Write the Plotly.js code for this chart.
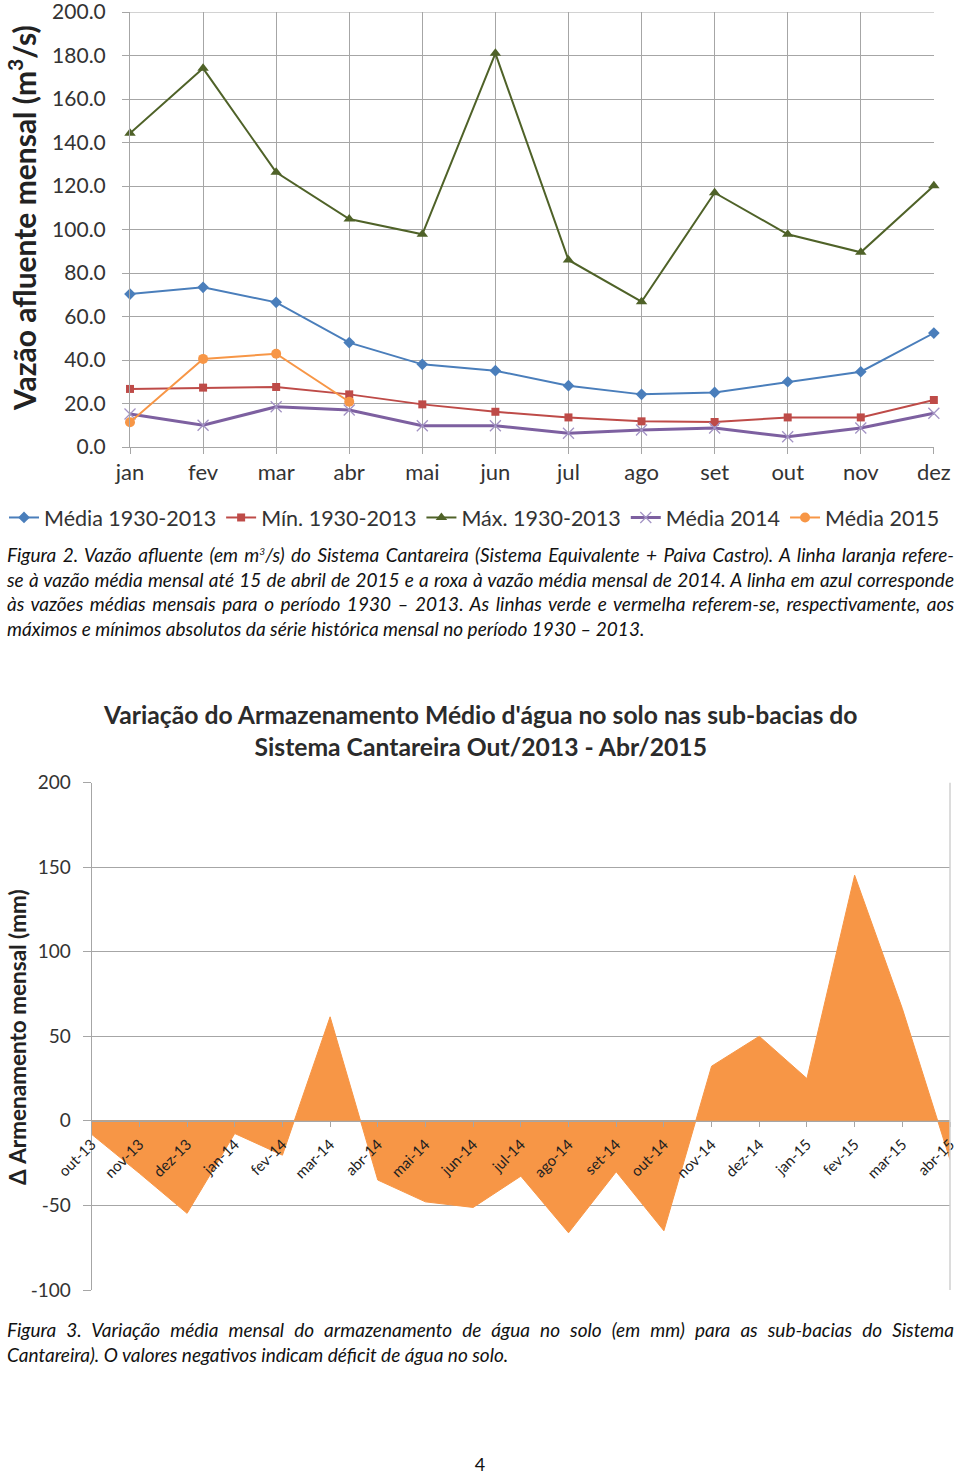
<!DOCTYPE html>
<html>
<head>
<meta charset="utf-8">
<script src="https://cdn.plot.ly/plotly-3.0.1.min.js"></script>
<style>
  html, body { margin:0; padding:0; background:#fff; }
  #page { position:relative; width:960px; height:1474px; overflow:hidden; }
  #chart { position:absolute; left:0; top:0; width:960px; height:1474px; }
  .cap { position:absolute; left:7px; width:947px; font-family:Lato,'Liberation Sans',sans-serif;
         font-style:italic; font-size:19px; color:#111; line-height:24.5px; }
  .cap div { text-align:justify; text-align-last:justify; white-space:nowrap; }
  .cap div.last { text-align-last:left; }
  #pnum { position:absolute; left:0; width:960px; top:1455px; height:18px; line-height:18px; text-align:center; font-family:Lato,sans-serif; font-size:18px; color:#111; }
</style>
</head>
<body>
<div id="page">
  <div id="chart"></div>
  <div class="cap" style="top:543px;">
    <div>Figura 2. Vazão afluente (em m<sup style="font-size:10px;line-height:0;">3</sup>/s) do Sistema Cantareira (Sistema Equivalente + Paiva Castro). A linha laranja refere-</div>
    <div>se à vazão média mensal até 15 de abril de 2015 e a roxa à vazão média mensal de 2014. A linha em azul corresponde</div>
    <div>às vazões médias mensais para o período 1930 – 2013. As linhas verde e vermelha referem-se, respectivamente, aos</div>
    <div class="last">máximos e mínimos absolutos da série histórica mensal no período 1930 – 2013.</div>
  </div>
  <div class="cap" style="top:1318px;">
    <div>Figura 3. Variação média mensal do armazenamento de água no solo (em mm) para as sub-bacias do Sistema</div>
    <div class="last">Cantareira). O valores negativos indicam déficit de água no solo.</div>
  </div>
  <div id="pnum">4</div>
</div>
<script>
// ---- Figura 2 data ----
const months = ['jan','fev','mar','abr','mai','jun','jul','ago','set','out','nov','dez'];
const media19302013 = [70.3, 73.4, 66.5, 48.0, 38.0, 35.1, 28.2, 24.2, 25.1, 30.0, 34.6, 52.4];
const min19302013   = [26.7, 27.3, 27.6, 24.2, 19.6, 16.2, 13.6, 11.8, 11.5, 13.6, 13.6, 21.6];
const max19302013   = [144.2, 174.1, 126.3, 104.8, 97.8, 181.0, 86.0, 66.8, 116.9, 97.8, 89.5, 120.1];
const media2014     = [15.2, 10.0, 18.5, 17.0, 9.8, 9.8, 6.3, 7.8, 8.7, 4.7, 8.7, 15.5];
const media2015     = [11.4, 40.5, 42.9, 20.8];
const yTicks1 = [0, 20, 40, 60, 80, 100, 120, 140, 160, 180, 200];
const yTickLabels1 = ['0.0','20.0','40.0','60.0','80.0','100.0','120.0','140.0','160.0','180.0','200.0'];

// ---- Figura 3 data ----
const monthsArm = ['out-13','nov-13','dez-13','jan-14','fev-14','mar-14','abr-14','mai-14','jun-14','jul-14',
                   'ago-14','set-14','out-14','nov-14','dez-14','jan-15','fev-15','mar-15','abr-15'];
const armazenamento = [-8.0, -31.0, -54.7, -7.5, -20.3, 61.5, -35.0, -47.9, -51.2, -32.7,
                       -66.2, -30.1, -65.0, 32.3, 50.0, 25.0, 145.2, 66.4, -23.0];
const yTicks2 = [-100, -50, 0, 50, 100, 150, 200];
const yTickLabels2 = ['-100', '-50', '0', '50', '100', '150', '200'];

const FONT = "Lato,'Liberation Sans',sans-serif";
const H = 1474, W = 960;
const py = p => 1 - p / H;
const px = p => p / W;
const GRID = '#a6a6a6';

const traces = [
  {x: months, y: media19302013, name: 'Média 1930-2013', type: 'scatter', mode: 'lines+markers', cliponaxis: false,
   line: {color: '#4a7ebb', width: 2}, marker: {symbol: 'diamond', size: 9, color: '#4a7ebb'}, xaxis: 'x', yaxis: 'y'},
  {x: months, y: min19302013, name: 'Mín. 1930-2013', type: 'scatter', mode: 'lines+markers', cliponaxis: false,
   line: {color: '#be4b48', width: 2}, marker: {symbol: 'square', size: 8, color: '#be4b48'}, xaxis: 'x', yaxis: 'y'},
  {x: months, y: max19302013, name: 'Máx. 1930-2013', type: 'scatter', mode: 'lines+markers', cliponaxis: false,
   line: {color: '#4f6228', width: 2}, marker: {symbol: 'triangle-up', size: 10, color: '#4f6228'}, xaxis: 'x', yaxis: 'y'},
  {x: months, y: media2014, name: 'Média 2014', type: 'scatter', mode: 'lines+markers', cliponaxis: false,
   line: {color: '#7d60a0', width: 3}, marker: {symbol: 'x-thin', size: 11, line: {color: '#a393c4', width: 1.3}}, xaxis: 'x', yaxis: 'y'},
  {x: months.slice(0, media2015.length), y: media2015, name: 'Média 2015', type: 'scatter', mode: 'lines+markers', cliponaxis: false,
   line: {color: '#f79646', width: 2}, marker: {symbol: 'circle', size: 10, color: '#f79646'}, xaxis: 'x', yaxis: 'y'},
  {x: monthsArm, y: armazenamento, name: 'Δ Armazenamento', type: 'scatter', mode: 'lines', fill: 'tozeroy',
   fillcolor: '#f79646', line: {color: '#f79646', width: 1}, showlegend: false, xaxis: 'x2', yaxis: 'y2'}
];

const layout = {
  width: W, height: H,
  margin: {l: 0, r: 0, t: 0, b: 0},
  paper_bgcolor: '#fff', plot_bgcolor: 'rgba(0,0,0,0)',
  font: {family: FONT, color: '#333'},
  showlegend: true,
  legend: {orientation: 'h', x: px(4), y: py(497), xanchor: 'left', yanchor: 'top',
           font: {family: FONT, size: 21.5, color: '#333'}, itemwidth: 30, tracegroupgap: 0, bgcolor: 'rgba(0,0,0,0)'},
  xaxis: {domain: [px(130), px(934)], anchor: 'y', type: 'category', range: [0, months.length - 1 + 0.002],
          showgrid: true, gridcolor: GRID, gridwidth: 1, showline: true, linecolor: GRID,
          ticks: 'outside', ticklen: 6, tickcolor: GRID, ticklabelstandoff: 0,
          tickfont: {family: FONT, size: 22, color: '#333'}, fixedrange: true},
  yaxis: {domain: [py(447), py(12)], anchor: 'x', range: [0, 200], tickvals: yTicks1, ticktext: yTickLabels1,
          ticklabeloverflow: 'allow',
          showgrid: true, gridcolor: GRID, gridwidth: 1, showline: true, linecolor: GRID, zeroline: false,
          ticks: 'outside', ticklen: 7, tickcolor: GRID, ticklabelstandoff: 12,
          tickfont: {family: FONT, size: 21, color: '#333'}, fixedrange: true},
  xaxis2: {domain: [px(91.7), px(950)], anchor: 'free', position: py(1120.7), type: 'category',
           range: [0, monthsArm.length - 1], showgrid: false, showline: true, linecolor: GRID,
           ticks: 'outside', ticklen: 5, tickcolor: GRID, tickangle: -45, ticklabelstandoff: 3,
           tickfont: {family: FONT, size: 15, color: '#222'}, fixedrange: true},
  yaxis2: {domain: [py(1290), py(782.5)], anchor: 'x2', range: [-100, 200], tickvals: yTicks2, ticktext: yTickLabels2,
           showgrid: true, gridcolor: GRID, gridwidth: 1, showline: true, linecolor: GRID, zeroline: false,
           ticks: 'outside', ticklen: 8, tickcolor: GRID, ticklabelstandoff: 8,
           tickfont: {family: FONT, size: 19, color: '#333'}, fixedrange: true},
  shapes: [
    {type: 'line', xref: 'paper', yref: 'y2', x0: px(950), x1: px(950), y0: -100, y1: 200,
     line: {color: '#d0d0d0', width: 1.5}},
    {type: 'line', xref: 'paper', yref: 'y', x0: px(123), x1: px(934), y0: 200, y1: 200,
     line: {color: GRID, width: 1}}
  ],
  annotations: [
    {text: '<b>Vazão afluente mensal (m<sup>3</sup>/s)</b>', xref: 'paper', yref: 'paper', x: px(22), y: py(218),
     xanchor: 'center', yanchor: 'middle',
     textangle: -90, showarrow: false, font: {family: FONT, size: 30, color: '#222'}},
    {text: '<b>Δ Armenamento mensal (mm)</b>', xref: 'paper', yref: 'paper', x: px(17), y: py(1037),
     xanchor: 'center', yanchor: 'middle',
     textangle: -90, showarrow: false, font: {family: FONT, size: 22.5, color: '#222'}},
    {text: "<b>Variação do Armazenamento Médio d'água no solo nas sub-bacias do</b><br><b>Sistema Cantareira Out/2013 - Abr/2015</b>",
     xref: 'paper', yref: 'paper', x: 0.5, y: py(730), xanchor: 'center', yanchor: 'middle', showarrow: false,
     font: {family: FONT, size: 24.7, color: '#2b2b2b'}}
  ]
};

Plotly.newPlot('chart', traces, layout, {staticPlot: true, displayModeBar: false});
</script>
</body>
</html>
